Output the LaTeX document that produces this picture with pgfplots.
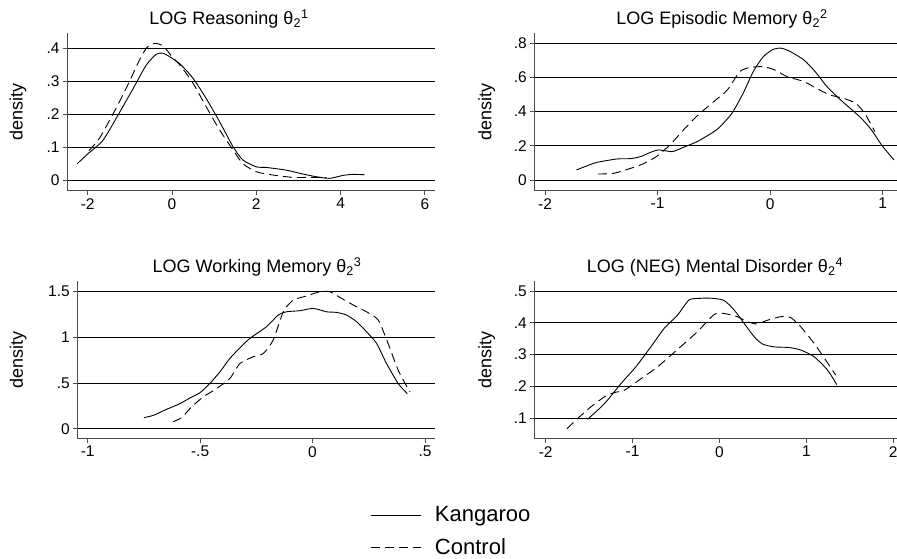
\documentclass[border=0pt]{standalone}
\usepackage{fontspec}
\setmainfont{Liberation Sans}
\usepackage{pgfplots}
\pgfplotsset{compat=1.18}

\pgfplotsset{
  stata/.style={
    scale only axis,
    height=157.7pt,
    axis lines*=left,
    axis line style={black!70, line width=0.8pt},
    tick align=outside,
    major tick length=4pt,
    tick style={black!70, line width=0.8pt},
    ymajorgrids,
    major grid style={black, line width=0.7pt},
    font=\fontsize{15.5}{18}\selectfont,
    ylabel=density,
    every axis y label/.style={rotate=90, anchor=center, font=\fontsize{18}{21}\selectfont},
    no markers,
    every axis plot/.append style={line width=0.9pt, smooth, tension=0.4},
    /pgf/number format/assume math mode=true,
    legend cell align=left,
  },
  kang/.style={black, solid},
  ctrl/.style={black, dash pattern=on 9pt off 5pt},
}

\begin{document}
\begin{tikzpicture}[x=1pt,y=1pt]
\path[use as bounding box] (0,0) rectangle (897,559);

% panel 1
\begin{axis}[stata, at={(67pt,368.3pt)}, anchor=south west, width=368pt,
  xmin=-2.49, xmax=6.24, ymin=-0.0325, ymax=0.4465,
  xtick={-2,0,2,4,6}, xticklabels={-2,0,2,4,6},
  ytick={0,0.1,0.2,0.3,0.4}, yticklabels={0,.1,.2,.3,.4},
  ylabel style={at={(axis description cs:-0.133,0.5)}}]
\addplot[kang] coordinates {(-2.25,0.049) (-2.0,0.079) (-1.64,0.12) (-1.28,0.197) (-0.92,0.278) (-0.61,0.349) (-0.37,0.382) (-0.21,0.385) (0,0.37) (0.22,0.349) (0.50,0.309) (0.81,0.248) (1.13,0.177) (1.45,0.101) (1.68,0.061) (2.0,0.04) (2.24,0.038) (2.71,0.03) (3.11,0.018) (3.42,0.01) (3.74,0.005) (4.06,0.014) (4.29,0.017) (4.57,0.016)};
\addplot[ctrl] coordinates {(-1.97,0.089) (-1.72,0.127) (-1.40,0.2) (-1.08,0.28) (-0.81,0.354) (-0.61,0.4) (-0.41,0.415) (-0.21,0.407) (0,0.375) (0.22,0.344) (0.50,0.294) (0.81,0.223) (1.13,0.152) (1.45,0.091) (1.68,0.05) (2.0,0.025) (2.40,0.015) (2.87,0.008) (3.42,0.008) (3.66,0.007)};
\end{axis}

% panel 2
\begin{axis}[stata, at={(534.3pt,368.3pt)}, anchor=south west, width=362.7pt,
  xmin=-2.095, xmax=1.127, ymin=-0.0626, ymax=0.86,
  xtick={-2,-1,0,1}, xticklabels={-2,-1,0,1},
  ytick={0,0.2,0.4,0.6,0.8}, yticklabels={0,.2,.4,.6,.8},
  ylabel style={at={(axis description cs:-0.131,0.5)}}]
\addplot[kang] coordinates {(-1.72,0.059) (-1.63,0.082) (-1.54,0.103) (-1.36,0.123) (-1.24,0.125) (-1.15,0.137) (-1.07,0.16) (-0.99,0.176) (-0.87,0.166) (-0.77,0.191) (-0.65,0.224) (-0.56,0.258) (-0.46,0.302) (-0.34,0.39) (-0.24,0.507) (-0.15,0.634) (-0.06,0.722) (0.03,0.765) (0.10,0.771) (0.18,0.751) (0.30,0.702) (0.40,0.634) (0.50,0.55) (0.61,0.478) (0.71,0.42) (0.81,0.361) (0.90,0.293) (0.99,0.205) (1.10,0.117)};
\addplot[ctrl] coordinates {(-1.53,0.035) (-1.39,0.039) (-1.24,0.068) (-1.13,0.094) (-1.01,0.137) (-0.89,0.205) (-0.77,0.293) (-0.64,0.38) (-0.50,0.459) (-0.38,0.527) (-0.27,0.634) (-0.18,0.658) (-0.06,0.663) (0.04,0.644) (0.15,0.605) (0.30,0.576) (0.41,0.537) (0.53,0.498) (0.65,0.478) (0.76,0.449) (0.84,0.39) (0.93,0.283)};
\end{axis}

% panel 3 (carries the legend)
\begin{axis}[stata, at={(77.3pt,120.3pt)}, anchor=south west, width=357.7pt,
  xmin=-1.046, xmax=0.5445, ymin=-0.1095, ymax=1.617,
  xtick={-1,-0.5,0,0.5}, xticklabels={-1,-.5,0,.5},
  ytick={0,0.5,1,1.5}, yticklabels={0,.5,1,1.5},
  ylabel style={at={(axis description cs:-0.165,0.5)}},
  legend style={draw=none, fill=none, inner sep=0pt, row sep=11pt,
    column sep=12pt, font=\fontsize{22}{25}\selectfont,
    at={(0.818,-0.418)}, anchor=north west},
  legend image code/.code={\draw[#1] (0pt,0pt) -- (50pt,0pt);}]
\addplot[kang] coordinates {(-0.75,0.121) (-0.708,0.146) (-0.649,0.212) (-0.59,0.274) (-0.545,0.337) (-0.50,0.395) (-0.457,0.494) (-0.412,0.622) (-0.368,0.768) (-0.323,0.885) (-0.279,0.988) (-0.205,1.116) (-0.153,1.244) (-0.116,1.28) (-0.056,1.292) (0.003,1.317) (0.062,1.28) (0.107,1.273) (0.151,1.244) (0.196,1.171) (0.24,1.061) (0.285,0.933) (0.329,0.713) (0.381,0.494) (0.421,0.384)};
\addlegendentry{Kangaroo}
\addplot[ctrl] coordinates {(-0.62,0.077) (-0.582,0.121) (-0.538,0.238) (-0.486,0.348) (-0.427,0.439) (-0.368,0.549) (-0.323,0.713) (-0.264,0.787) (-0.219,0.823) (-0.175,0.97) (-0.13,1.28) (-0.086,1.408) (-0.027,1.452) (0.033,1.5) (0.077,1.5) (0.122,1.437) (0.181,1.354) (0.24,1.28) (0.292,1.189) (0.336,0.933) (0.381,0.64) (0.433,0.402)};
\addlegendentry{Control}
\end{axis}

% panel 4
\begin{axis}[stata, at={(534.3pt,120.3pt)}, anchor=south west, width=362.7pt,
  xmin=-2.131, xmax=2.043, ymin=0.0348, ymax=0.5315,
  xtick={-2,-1,0,1,2}, xticklabels={-2,-1,0,1,2},
  ytick={0.1,0.2,0.3,0.4,0.5}, yticklabels={.1,.2,.3,.4,.5},
  ylabel style={at={(axis description cs:-0.131,0.5)}}]
\addplot[kang] coordinates {(-1.519,0.096) (-1.404,0.124) (-1.289,0.156) (-1.135,0.208) (-0.963,0.261) (-0.79,0.324) (-0.637,0.382) (-0.483,0.424) (-0.349,0.472) (-0.215,0.477) (-0.081,0.477) (0.054,0.47) (0.169,0.44) (0.284,0.398) (0.399,0.356) (0.495,0.333) (0.629,0.324) (0.802,0.322) (0.936,0.314) (1.089,0.293) (1.243,0.251) (1.35,0.205)};
\addplot[ctrl] coordinates {(-1.756,0.066) (-1.634,0.098) (-1.48,0.135) (-1.327,0.166) (-1.212,0.18) (-1.097,0.187) (-0.943,0.216) (-0.713,0.261) (-0.483,0.316) (-0.253,0.372) (-0.061,0.426) (0.054,0.429) (0.207,0.419) (0.322,0.403) (0.437,0.396) (0.552,0.408) (0.706,0.419) (0.821,0.416) (0.936,0.387) (1.089,0.335) (1.223,0.282) (1.338,0.235)};
\end{axis}

% panel titles
\begin{scope}[font=\fontsize{18}{21}\selectfont]
\node at (229,540) {LOG Reasoning θ\textsubscript{2}\textsuperscript{1}};
\node at (722,540) {LOG Episodic Memory θ\textsubscript{2}\textsuperscript{2}};
\node at (257,292) {LOG Working Memory θ\textsubscript{2}\textsuperscript{3}};
\node at (715,292) {LOG (NEG) Mental Disorder θ\textsubscript{2}\textsuperscript{4}};
\end{scope}
\end{tikzpicture}
\end{document}
